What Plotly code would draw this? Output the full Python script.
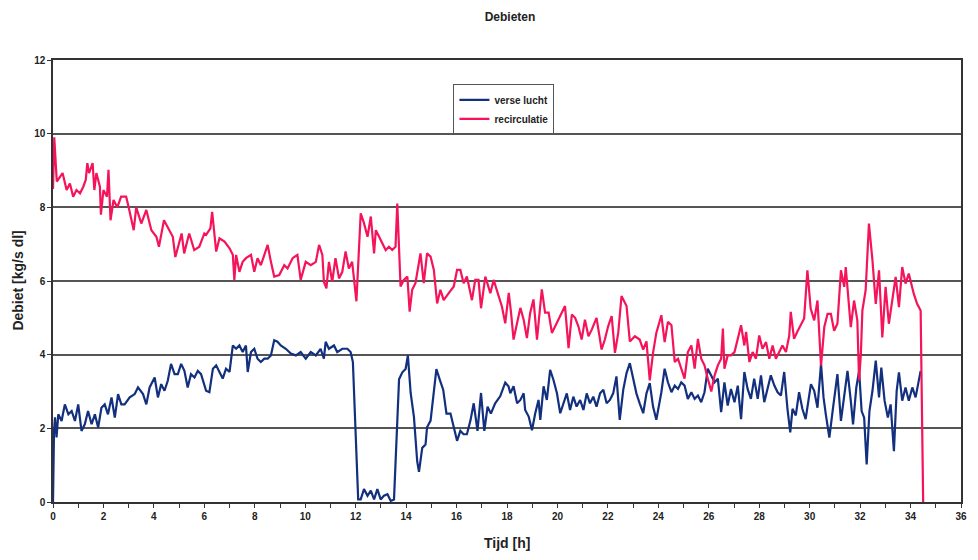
import plotly.graph_objects as go

# ---- data: recirculatie (red) ----
t_recirc = [0.00, 0.05, 0.15, 0.38, 0.54, 0.67, 0.80, 0.93, 1.07, 1.20, 1.30, 1.36, 1.43, 1.57, 1.64, 1.72, 1.86, 1.90, 2.00, 2.14, 2.20, 2.28, 2.40, 2.55, 2.70, 2.90, 3.00, 3.20, 3.30, 3.50, 3.70, 3.90, 4.10, 4.20, 4.40, 4.55, 4.75, 4.85, 5.10, 5.20, 5.40, 5.60, 5.80, 6.00,
            6.07, 6.24, 6.31, 6.47, 6.60, 6.80, 7.00, 7.13, 7.19, 7.26, 7.39, 7.52, 7.65, 7.85, 7.98, 8.11, 8.24, 8.38, 8.51, 8.64, 8.77, 8.97, 9.17, 9.30, 9.50, 9.69, 9.82, 10.02, 10.22, 10.42, 10.55, 10.68, 10.74, 10.84, 10.94, 11.07, 11.20, 11.34, 11.47, 11.60, 11.73, 11.86, 12.03,
            12.20, 12.33, 12.47, 12.60, 12.73, 12.80, 12.93, 13.06, 13.19, 13.32, 13.45, 13.58, 13.65, 13.78, 13.91, 14.05, 14.14, 14.24, 14.37, 14.57, 14.70, 14.83, 14.97, 15.10, 15.23, 15.36, 15.49, 15.69, 15.89, 16.02, 16.15, 16.28, 16.41, 16.61, 16.74, 16.87, 16.97, 17.14, 17.34, 17.47, 17.60, 17.80, 17.93,
            18.07, 18.16, 18.26, 18.40, 18.53, 18.66, 18.79, 18.92, 19.05, 19.19, 19.38, 19.51, 19.65, 19.78, 19.98, 20.17, 20.30, 20.44, 20.57, 20.70, 20.83, 20.96, 21.09, 21.23, 21.36, 21.55, 21.75, 21.88, 22.01, 22.15, 22.28, 22.41, 22.54, 22.74, 22.87, 23.07, 23.26, 23.40, 23.53, 23.66, 23.79, 23.92,
            24.12, 24.25, 24.38, 24.52, 24.65, 24.78, 24.91, 25.04, 25.17, 25.31, 25.44, 25.57, 25.70, 25.83, 25.96, 26.10, 26.23, 26.36, 26.49, 26.56, 26.62, 26.75, 26.88, 27.02, 27.15, 27.28, 27.41, 27.48, 27.61, 27.74, 27.87, 28.00, 28.13, 28.27, 28.40, 28.53, 28.66, 28.79, 28.92, 29.06, 29.19, 29.25, 29.38, 29.51, 29.65, 29.78, 29.91, 30.04,
            30.18, 30.31, 30.45, 30.58, 30.71, 30.84, 30.97, 31.10, 31.24, 31.37, 31.43, 31.50, 31.63, 31.76, 31.89, 31.96, 32.03, 32.09, 32.22, 32.35, 32.49, 32.62, 32.75, 32.88, 33.01, 33.14, 33.28, 33.41, 33.54, 33.67, 33.80, 33.93, 34.06, 34.13, 34.26, 34.40, 34.50]
v_recirc = [8.5, 9.9, 8.7, 8.93, 8.47, 8.65, 8.29, 8.47, 8.38, 8.56, 8.75, 9.2, 8.93, 9.2, 8.47, 8.93, 8.56, 7.8, 8.47, 8.29, 9.02, 7.65, 8.2, 8.0, 8.29, 8.29, 8.0, 7.38, 8.0, 7.56, 7.93, 7.38, 7.2, 6.93, 7.65, 7.47, 7.2, 6.65, 7.29, 6.75, 7.29, 6.84, 6.93, 7.29,
            7.25, 7.43, 7.88, 6.8, 7.16, 7.07, 6.89, 6.71, 6.03, 6.71, 6.25, 6.52, 6.62, 6.71, 6.25, 6.62, 6.43, 6.71, 6.98, 6.52, 6.12, 6.16, 6.43, 6.34, 6.62, 6.71, 6.03, 6.52, 6.43, 6.52, 6.98, 6.71, 5.98, 5.8, 6.52, 5.98, 6.62, 6.07, 6.25, 6.8, 6.34, 6.52, 5.45,
            7.84, 7.57, 7.2, 7.75, 6.75, 7.38, 7.2, 7.02, 6.84, 6.93, 6.84, 6.93, 8.1, 5.85, 6.03, 6.12, 5.17, 5.76, 5.94, 6.75, 5.94, 6.75, 6.66, 6.3, 5.39, 5.76, 5.48, 5.67, 5.85, 6.3, 6.3, 5.94, 6.12, 5.48, 6.03, 6.03, 5.26, 6.12, 5.67, 6.03, 5.76, 5.3, 4.85,
            5.68, 5.14, 4.41, 4.86, 5.27, 4.95, 4.45, 5.14, 5.5, 4.41, 5.77, 5.14, 5.14, 4.59, 4.86, 5.14, 5.32, 4.18, 5.09, 5.0, 4.77, 4.41, 4.95, 4.5, 4.68, 5.0, 4.14, 4.41, 4.77, 5.05, 4.05, 4.59, 5.59, 5.32, 4.36, 4.5, 4.41, 4.14, 4.36, 3.3, 4.05, 4.59,
            5.07, 4.34, 4.89, 4.8, 3.8, 3.89, 3.62, 3.35, 4.07, 4.25, 3.62, 4.43, 3.89, 3.71, 3.35, 3.0, 3.44, 3.71, 3.89, 4.71, 3.62, 3.98, 3.98, 4.07, 4.43, 4.8, 4.25, 4.62, 3.8, 4.07, 3.89, 4.52, 4.16, 4.34, 3.89, 4.25, 3.89, 4.07, 4.25, 4.07, 4.52, 5.16, 4.43, 4.62, 4.8, 4.98, 6.29, 5.25,
            4.93, 5.47, 3.7, 4.75, 5.11, 5.11, 4.65, 4.84, 6.29, 5.84, 6.38, 5.75, 4.75, 5.47, 4.93, 3.3, 4.02, 5.2, 5.75, 7.56, 6.56, 5.38, 6.29, 4.47, 5.84, 4.84, 5.47, 6.11, 5.29, 6.38, 5.93, 6.2, 5.84, 5.65, 5.38, 5.2, 0.0]

# ---- data: verse lucht (blue) ----
t_vers = [0.00, 0.04, 0.08, 0.14, 0.21, 0.34, 0.47, 0.61, 0.74, 0.87, 1.00, 1.13, 1.26, 1.39, 1.53, 1.66, 1.79, 1.92, 2.05, 2.18, 2.32, 2.45, 2.58, 2.71, 2.84, 3.04, 3.24, 3.37, 3.57, 3.70, 3.83, 4.03, 4.16, 4.29, 4.42, 4.55, 4.68, 4.82, 4.95, 5.08, 5.21, 5.34, 5.47, 5.61, 5.74, 5.87, 6.07,
          6.20, 6.34, 6.47, 6.60, 6.73, 6.86, 7.00, 7.13, 7.26, 7.39, 7.52, 7.65, 7.72, 7.85, 7.98, 8.11, 8.24, 8.38, 8.51, 8.64, 8.77, 8.90, 9.03, 9.23, 9.43, 9.63, 9.82, 10.02, 10.22, 10.42, 10.61, 10.74, 10.81, 10.94, 11.14, 11.27, 11.47, 11.67, 11.80, 11.89, 12.00, 12.10,
          12.20, 12.33, 12.47, 12.60, 12.73, 12.86, 12.99, 13.12, 13.26, 13.39, 13.52, 13.58, 13.72, 13.85, 13.98, 14.07, 14.18, 14.31, 14.44, 14.51, 14.64, 14.77, 14.83, 14.97, 15.10, 15.20, 15.33, 15.47, 15.60, 15.76, 15.89, 16.02, 16.15, 16.28, 16.41, 16.55, 16.68, 16.83, 16.97, 17.10, 17.23, 17.36, 17.53, 17.73, 17.93,
          18.06, 18.13, 18.26, 18.40, 18.53, 18.66, 18.72, 18.86, 18.99, 19.12, 19.25, 19.32, 19.45, 19.58, 19.71, 19.84, 19.98, 20.11, 20.24, 20.37, 20.50, 20.63, 20.76, 20.90, 21.03, 21.16, 21.29, 21.42, 21.55, 21.69, 21.82, 21.95, 22.08, 22.21, 22.34, 22.47, 22.61, 22.74, 22.87, 23.00, 23.13, 23.26, 23.40, 23.53, 23.66, 23.79, 23.92,
          24.12, 24.25, 24.38, 24.52, 24.65, 24.78, 24.91, 25.04, 25.17, 25.31, 25.44, 25.57, 25.70, 25.83, 25.96, 26.10, 26.23, 26.36, 26.49, 26.62, 26.75, 26.88, 27.02, 27.15, 27.28, 27.41, 27.54, 27.67, 27.80, 27.94, 28.07, 28.20, 28.33, 28.46, 28.60, 28.73, 28.86, 28.99, 29.12, 29.23, 29.32, 29.45, 29.58, 29.71, 29.84, 29.98,
          30.05, 30.18, 30.31, 30.45, 30.55, 30.64, 30.78, 30.91, 31.10, 31.24, 31.37, 31.50, 31.63, 31.72, 31.85, 31.96, 32.06, 32.16, 32.26, 32.37, 32.49, 32.62, 32.75, 32.84, 32.97, 33.10, 33.21, 33.34, 33.45, 33.54, 33.67, 33.80, 33.93, 34.07, 34.20, 34.33, 34.40]
v_vers = [0.0, 1.93, 2.3, 1.75, 2.38, 2.2, 2.65, 2.38, 2.47, 2.2, 2.65, 1.93, 2.11, 2.47, 2.11, 2.38, 2.02, 2.56, 2.65, 2.38, 2.84, 2.29, 2.93, 2.65, 2.65, 2.84, 2.93, 3.11, 2.93, 2.65, 3.11, 3.38, 2.84, 3.2, 3.02, 3.29, 3.75, 3.47, 3.47, 3.75, 3.56, 3.11, 3.47, 3.38, 3.56, 3.47, 3.02,
          2.98, 3.62, 3.71, 3.53, 3.35, 3.62, 3.53, 4.25, 4.16, 4.25, 4.07, 4.25, 3.53, 4.07, 4.16, 3.89, 3.8, 3.89, 3.89, 3.98, 4.39, 4.35, 4.25, 4.16, 4.03, 3.98, 4.07, 3.89, 4.07, 3.98, 4.16, 3.89, 4.35, 4.16, 4.25, 4.07, 4.16, 4.16, 4.07, 3.8, 1.98, 0.07,
          0.07, 0.35, 0.17, 0.31, 0.07, 0.35, 0.07, 0.17, 0.21, 0.03, 0.07, 1.1, 3.33, 3.52, 3.61, 3.98, 2.96, 2.31, 1.1, 0.82, 1.47, 1.56, 2.03, 2.21, 3.05, 3.61, 3.33, 3.05, 2.4, 2.4, 2.03, 1.66, 1.93, 1.84, 1.84, 2.21, 2.68, 1.93, 2.96, 1.93, 2.59, 2.4, 2.68, 2.87, 3.24,
          3.14, 2.95, 3.14, 2.68, 2.77, 2.95, 2.5, 2.32, 1.95, 2.41, 2.77, 2.23, 3.14, 2.77, 3.59, 3.32, 2.95, 2.41, 2.68, 2.95, 2.5, 2.86, 2.59, 2.77, 2.5, 2.95, 2.68, 2.86, 2.59, 2.95, 3.05, 2.68, 2.77, 2.95, 3.41, 2.23, 3.05, 3.5, 3.77, 3.32, 2.95, 2.68, 2.41, 2.95, 3.23, 2.59, 2.23,
          2.98, 3.62, 3.25, 2.98, 3.16, 3.07, 3.25, 3.16, 2.8, 2.98, 2.8, 2.89, 2.71, 2.98, 3.62, 3.44, 3.25, 3.35, 2.44, 3.25, 2.62, 3.07, 2.71, 3.16, 2.25, 3.53, 3.07, 2.8, 3.35, 2.8, 3.44, 2.71, 3.07, 3.44, 3.16, 2.98, 2.89, 3.53, 2.53, 1.89, 2.53, 2.35, 2.98, 2.53, 2.25, 2.98,
          3.2, 3.02, 2.56, 3.75, 2.84, 2.38, 1.75, 2.47, 3.47, 2.2, 2.84, 3.56, 2.75, 2.11, 3.11, 3.56, 2.47, 2.29, 1.02, 2.47, 3.02, 3.84, 2.84, 3.65, 2.75, 2.29, 2.65, 1.38, 3.02, 3.52, 2.75, 3.11, 2.75, 3.11, 2.84, 3.38, 3.56]

x_tick_vals = list(range(0, 37, 2))
y_tick_vals = list(range(0, 13, 2))

FONT = "Liberation Sans"
TITLE_FONT = dict(family=FONT, size=14, color="#222", weight="bold")

fig = go.Figure()
fig.add_trace(go.Scatter(x=t_vers, y=v_vers, mode="lines", name="verse lucht",
                         line=dict(color="#13307f", width=2.2)))
fig.add_trace(go.Scatter(x=t_recirc, y=v_recirc, mode="lines", name="recirculatie",
                         line=dict(color="#f5135a", width=2.2)))

fig.update_layout(
    width=978, height=560,
    margin=dict(l=53, r=11, t=60, b=58),
    paper_bgcolor="white", plot_bgcolor="white",
    title=dict(text="Debieten", x=0.5215, xanchor="center", y=0.97, yanchor="middle",
               font=dict(family=FONT, size=12, color="#222", weight="bold")),
    font=dict(family=FONT, color="#222"),
    showlegend=True,
    legend=dict(x=0.441, y=0.945, xanchor="left", yanchor="top",
                bgcolor="white", bordercolor="#555", borderwidth=1,
                font=dict(family=FONT, size=10, color="#222", weight="bold"),
                tracegroupgap=0, itemwidth=30),
    xaxis=dict(range=[0, 36], tickvals=x_tick_vals, ticks="outside", ticklen=4,
               tickcolor="#333", showgrid=False, zeroline=False,
               showline=True, linecolor="#333", linewidth=1.5, mirror=True,
               minor=dict(dtick=1, ticks="outside", ticklen=4, tickcolor="#333"),
               tickfont=dict(family=FONT, size=10, color="#222", weight="bold")),
    yaxis=dict(range=[0, 12], tickvals=y_tick_vals, ticks="outside", ticklen=4,
               tickcolor="#333", showgrid=True, gridcolor="#555", gridwidth=1.5,
               zeroline=False, showline=True, linecolor="#333", linewidth=1.5, mirror=True,
               tickfont=dict(family=FONT, size=10, color="#222", weight="bold")),
    annotations=[
        dict(text="Tijd [h]", xref="paper", yref="paper", x=0.5, y=-0.093,
             xanchor="center", yanchor="middle", showarrow=False, font=TITLE_FONT),
        dict(text="Debiet [kg/s dl]", xref="paper", yref="paper", x=-0.039, y=0.5,
             xanchor="center", yanchor="middle", textangle=-90, showarrow=False,
             font=TITLE_FONT),
    ],
)

fig.write_html("out.html")
